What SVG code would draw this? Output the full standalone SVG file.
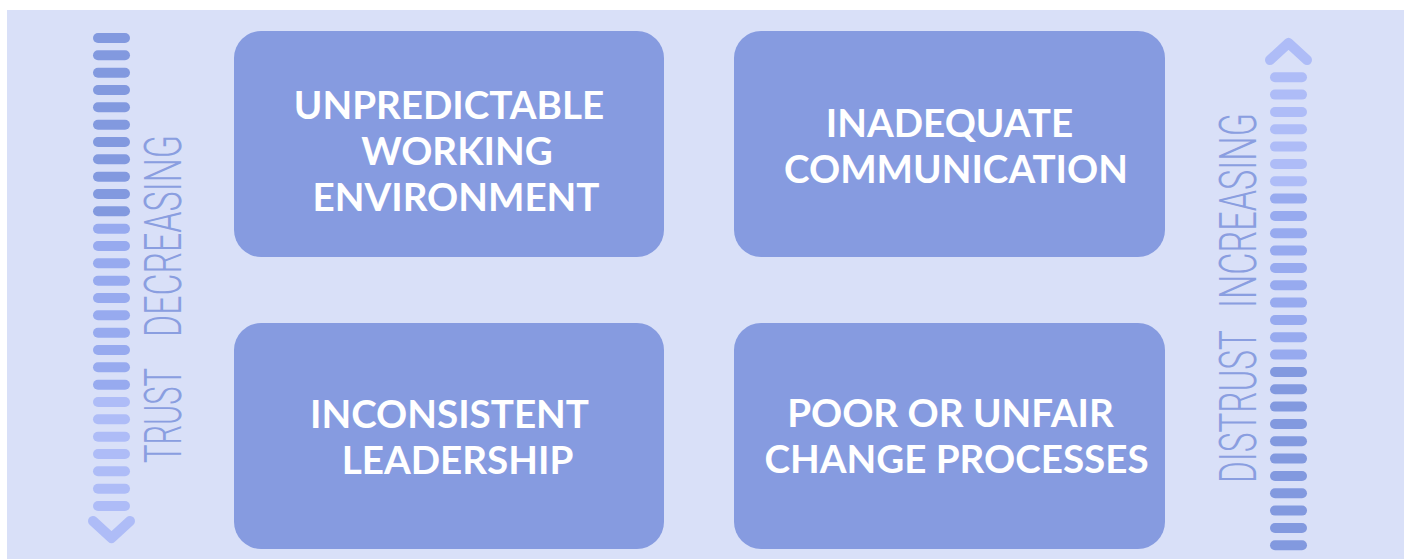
<svg xmlns="http://www.w3.org/2000/svg" width="1408" height="559" viewBox="0 0 1408 559">
<defs>
<style>
.bg{fill:#d9e0f8}
.box{fill:#869be0}
.t{font-family:Lato,"Liberation Sans",sans-serif;font-weight:700;font-size:38.6px;fill:#ffffff;text-anchor:middle}
.v{font-family:Roboto,"Liberation Sans",sans-serif;font-weight:300;font-size:51px;fill:#8a9ee0}
.d{fill:#8299df}
.m{fill:#97aaef}
.l{fill:#aebcf7}
.chev{fill:none;stroke:#aebcf7;stroke-width:10;stroke-linecap:round;stroke-linejoin:round}
</style>
<rect id="bar" width="37" height="10" rx="5"/>
</defs>
<rect class="bg" x="7" y="10" width="1397" height="549"/>

<g id="left-scale">
<use href="#bar" class="d" x="93" y="33"/>
<use href="#bar" class="d" x="93" y="50.3"/>
<use href="#bar" class="d" x="93" y="67.7"/>
<use href="#bar" class="d" x="93" y="85"/>
<use href="#bar" class="d" x="93" y="102.3"/>
<use href="#bar" class="d" x="93" y="119.7"/>
<use href="#bar" class="d" x="93" y="137"/>
<use href="#bar" class="d" x="93" y="154.3"/>
<use href="#bar" class="d" x="93" y="171.7"/>
<use href="#bar" class="d" x="93" y="189"/>
<use href="#bar" class="d" x="93" y="206.3"/>
<use href="#bar" class="m" x="93" y="223.7"/>
<use href="#bar" class="m" x="93" y="241"/>
<use href="#bar" class="m" x="93" y="258.3"/>
<use href="#bar" class="m" x="93" y="275.7"/>
<use href="#bar" class="m" x="93" y="293"/>
<use href="#bar" class="m" x="93" y="310.3"/>
<use href="#bar" class="m" x="93" y="327.7"/>
<use href="#bar" class="m" x="93" y="345"/>
<use href="#bar" class="m" x="93" y="362.3"/>
<use href="#bar" class="m" x="93" y="379.7"/>
<use href="#bar" class="l" x="93" y="397"/>
<use href="#bar" class="l" x="93" y="414.3"/>
<use href="#bar" class="l" x="93" y="431.7"/>
<use href="#bar" class="l" x="93" y="449"/>
<use href="#bar" class="l" x="93" y="466.3"/>
<use href="#bar" class="l" x="93" y="483.7"/>
<use href="#bar" class="l" x="93" y="501"/>
<polyline class="chev" points="93,521 111.5,538 130,521"/>
<text class="v" transform="translate(181,0) rotate(-90)"><tspan x="-463" y="0" textLength="95" lengthAdjust="spacingAndGlyphs">TRUST</tspan><tspan x="-337" y="0" textLength="202" lengthAdjust="spacingAndGlyphs">DECREASING</tspan></text>
</g>

<g id="right-scale">
<polyline class="chev" points="1270,60 1288.5,43 1307,60"/>
<use href="#bar" class="l" x="1270" y="72.3"/>
<use href="#bar" class="l" x="1270" y="89.6"/>
<use href="#bar" class="l" x="1270" y="107"/>
<use href="#bar" class="l" x="1270" y="124.3"/>
<use href="#bar" class="l" x="1270" y="141.6"/>
<use href="#bar" class="l" x="1270" y="159"/>
<use href="#bar" class="l" x="1270" y="176.3"/>
<use href="#bar" class="m" x="1270" y="193.6"/>
<use href="#bar" class="m" x="1270" y="211"/>
<use href="#bar" class="m" x="1270" y="228.3"/>
<use href="#bar" class="m" x="1270" y="245.6"/>
<use href="#bar" class="m" x="1270" y="263"/>
<use href="#bar" class="m" x="1270" y="280.3"/>
<use href="#bar" class="m" x="1270" y="297.6"/>
<use href="#bar" class="m" x="1270" y="315"/>
<use href="#bar" class="m" x="1270" y="332.3"/>
<use href="#bar" class="m" x="1270" y="349.6"/>
<use href="#bar" class="d" x="1270" y="367"/>
<use href="#bar" class="d" x="1270" y="384.3"/>
<use href="#bar" class="d" x="1270" y="401.6"/>
<use href="#bar" class="d" x="1270" y="419"/>
<use href="#bar" class="d" x="1270" y="436.3"/>
<use href="#bar" class="d" x="1270" y="453.6"/>
<use href="#bar" class="d" x="1270" y="471"/>
<use href="#bar" class="d" x="1270" y="488.3"/>
<use href="#bar" class="d" x="1270" y="505.6"/>
<use href="#bar" class="d" x="1270" y="523"/>
<use href="#bar" class="d" x="1270" y="540.3"/>
<text class="v" transform="translate(1256,0) rotate(-90)"><tspan x="-483" y="0" textLength="153" lengthAdjust="spacingAndGlyphs">DISTRUST</tspan><tspan x="-308" y="0" textLength="195" lengthAdjust="spacingAndGlyphs">INCREASING</tspan></text>
</g>

<g id="node-unpredictable">
<rect class="box" x="234" y="31" width="430" height="226" rx="27"/>
<text class="t" x="449" y="119">UNPREDICTABLE</text>
<text class="t" x="457" y="165">WORKING</text>
<text class="t" x="456" y="211">ENVIRONMENT</text>
</g>
<g id="node-communication">
<rect class="box" x="734" y="31" width="431" height="226" rx="27"/>
<text class="t" x="949.5" y="137">INADEQUATE</text>
<text class="t" x="956" y="183">COMMUNICATION</text>
</g>
<g id="node-leadership">
<rect class="box" x="234" y="323" width="430" height="226" rx="27"/>
<text class="t" x="449.5" y="428">INCONSISTENT</text>
<text class="t" x="457.5" y="474">LEADERSHIP</text>
</g>
<g id="node-change">
<rect class="box" x="734" y="323" width="431" height="226" rx="27"/>
<text class="t" x="950.5" y="427">POOR OR UNFAIR</text>
<text class="t" x="956.5" y="473">CHANGE PROCESSES</text>
</g>
</svg>
